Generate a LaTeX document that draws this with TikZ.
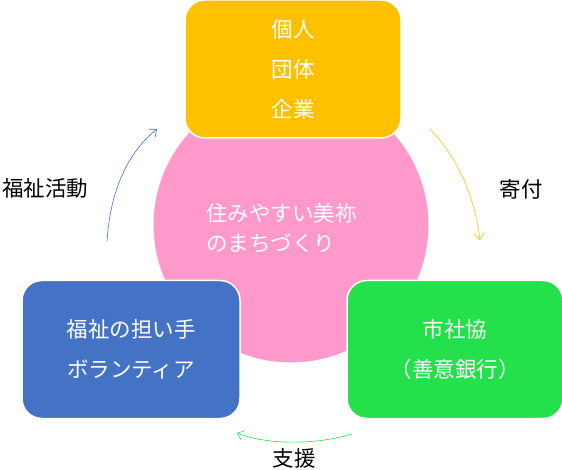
\documentclass[tikz,border=0pt]{standalone}
\usepackage{fontspec}
\newfontfamily\jp{Noto Sans CJK JP}
\usetikzlibrary{arrows.meta}
\definecolor{orng}{HTML}{FFC000}
\definecolor{pnk}{HTML}{FF99CC}
\definecolor{blu}{HTML}{4472C4}
\definecolor{grn}{HTML}{23E04B}
\tikzset{
  boxnode/.style={draw=white, line width=1.5pt, rounded corners=20pt, minimum width=216pt, minimum height=138pt, text=white, align=center, font=\jp\fontsize{21.5}{40}\selectfont, inner sep=0pt},
  lbl/.style={font=\jp\fontsize{21.5}{24}\selectfont, text=black, inner sep=0pt},
  cyc/.style={line width=0.6pt, -{Straight Barb[length=6pt,width=10pt]}}
}
\begin{document}
\begin{tikzpicture}[x=1pt,y=-1pt]
\useasboundingbox[fill=white] (0,0) rectangle (562,470);
\node[circle, fill=pnk, draw=white, line width=1pt, minimum size=276pt, inner sep=0pt] (hub) at (291,225) {};
\node[anchor=west, text=white, align=left, font=\jp\fontsize{21.5}{30}\selectfont, inner sep=0pt] (goal) at (206,228) {住みやすい美祢\\のまちづくり};
\node[boxnode, fill=orng] (donor) at (293,69) {個人\\団体\\企業};
\node[boxnode, fill=blu, minimum width=218pt] (vol) at (131,349.5) {福祉の担い手\\ボランティア};
\node[boxnode, fill=grn, minimum width=216pt] (csw) at (455,349.5) {市社協\\（善意銀行）};
\node[lbl] (l1) at (45,188) {福祉活動};
\node[lbl] (l2) at (521,189) {寄付};
\node[lbl] (l3) at (294,458) {支援};
\coordinate (a1s) at (107,241);
\coordinate (a1e) at (157,129);
\coordinate (a2s) at (430,129);
\coordinate (a2e) at (480,240);
\coordinate (a3s) at (352,434);
\coordinate (a3e) at (237,433);
\draw[cyc, blu] (a1s) .. controls (110,195) and (125,155) .. (a1e);
\draw[cyc, orng] (a2s) .. controls (460,160) and (475,200) .. (a2e);
\draw[cyc, grn] (a3s) .. controls (320,444) and (270,446) .. (a3e);
\end{tikzpicture}
\end{document}
